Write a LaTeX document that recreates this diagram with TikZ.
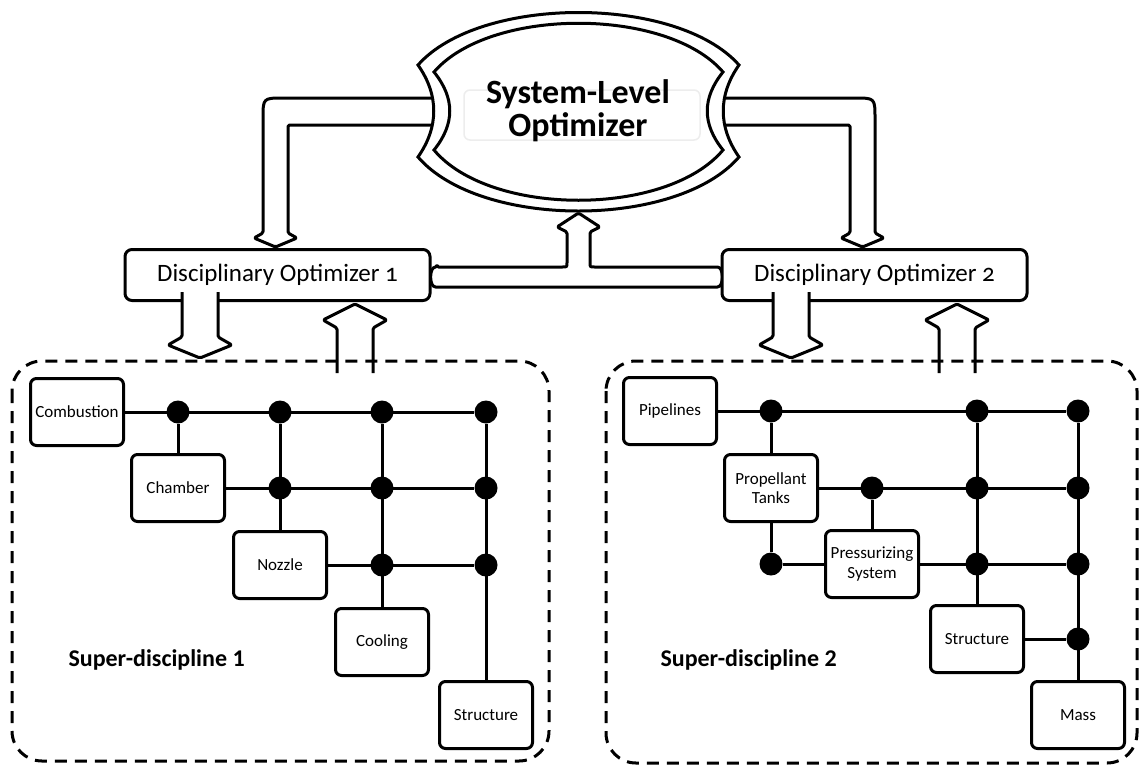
\documentclass[tikz,border=0pt]{standalone}
\usepackage{fontspec}
\setmainfont{Carlito}
\tikzset{
  sd-block/.style={draw=black, fill=white, rounded corners=6pt, line width=3pt,
    minimum width=93pt, minimum height=67pt, inner sep=1pt, align=center,
    font=\fontsize{17}{19.5}\selectfont},
  sd-optimizer/.style={draw=black, fill=white, rounded corners=7pt, line width=3pt,
    minimum width=305pt, minimum height=51pt, inner sep=2pt,
    font=\fontsize{25}{27}\selectfont\addfontfeatures{Numbers=OldStyle}},
  sd-dot/.style={circle, fill=black, inner sep=0pt, minimum size=23pt},
  sd-link/.style={line width=3pt},
  sd-frame/.style={draw=black, line width=3pt, dash pattern=on 12pt off 8pt, rounded corners=30pt},
  sd-blockarrow/.style={draw=black, fill=white, line width=3pt, rounded corners=1.5pt, line join=round}
}

\begin{document}
\begin{tikzpicture}[x=1pt, y=-1pt]
  \useasboundingbox (0,0) rectangle (1140,766);

  % Optimizer to disciplinary optimizers
  \draw[sd-blockarrow] (445,98) -- (285,98) .. controls (263,98) .. (263,120) -- (263,233) -- (254,238) -- (275.5,247) -- (297,238) -- (288,233) -- (288,125) -- (445,125);
  \draw[sd-blockarrow] (712,98) -- (853,98) .. controls (875,98) .. (875,120) -- (875,233) -- (884,238) -- (862.5,247) -- (841,238) -- (850,233) -- (850,125) -- (712,125);

  % System-level optimizer
  \draw[line width=3pt, fill=white] (418,65) .. controls (480,-5) and (677,-5) .. (739,65)
    .. controls (718,95) and (718,127) .. (739,157)
    .. controls (677,229) and (480,229) .. (418,157)
    .. controls (439,127) and (439,95) .. (418,65) -- cycle;
  \draw[line width=3pt] (434,72) .. controls (490,7) and (667,7) .. (723,72)
    .. controls (702,98) and (702,124) .. (723,150)
    .. controls (667,217) and (490,217) .. (434,150)
    .. controls (455,124) and (455,98) .. (434,72) -- cycle;
  \draw[black!7, line width=1.5pt, rounded corners=6pt] (464,90) rectangle (700,140);
  \node[align=center, font=\fontsize{34}{33}\selectfont\bfseries] (slo) at (578,111) {System-Level\\Optimizer};

  % Feedback to system level
  \draw[sd-blockarrow] (437,267) -- (561,267) .. controls (567,267) .. (567,261) -- (567,232) -- (557,227) -- (578.5,213) -- (600,227) -- (590,232) -- (590,261) .. controls (590,267) .. (596,267) -- (716,267) .. controls (724,267) and (724,287) .. (716,287) -- (437,287) .. controls (429,287) and (429,267) .. (437,267) -- cycle;

  % Disciplinary optimizers
  \node[sd-optimizer] (do1) at (277.5,275) {Disciplinary Optimizer 1};
  \node[sd-optimizer] (do2) at (874.5,275) {Disciplinary Optimizer 2};

  % Down and up arrows
  \draw[sd-blockarrow] (182,292) -- (182,337) -- (168,345) -- (200,358) -- (232,345) -- (218,337) -- (218,292);
  \draw[sd-blockarrow] (337,373) -- (337,328) -- (323,320) -- (355,304) -- (387,320) -- (373,328) -- (373,373);
  \draw[sd-blockarrow] (773,292) -- (773,337) -- (759,345) -- (791,358) -- (823,345) -- (809,337) -- (809,292);
  \draw[sd-blockarrow] (939,373) -- (939,328) -- (925,320) -- (957,304) -- (989,320) -- (975,328) -- (975,373);

  % Super-discipline frames
  \draw[sd-frame] (12,361) rectangle (549,761);
  \draw[sd-frame] (606,361) rectangle (1137,763);
  \node[anchor=west, font=\fontsize{24}{26}\selectfont\bfseries] (sd1) at (65,660) {Super-discipline 1};
  \node[anchor=west, font=\fontsize{24}{26}\selectfont\bfseries] (sd2) at (657,660) {Super-discipline 2};

  % Super-discipline 1
  \node[sd-block] (comb) at (77,412) {Combustion};
  \node[sd-block] (cham) at (178,488) {Chamber};
  \node[sd-block] (nozz) at (280,565) {Nozzle};
  \node[sd-block] (cool) at (382,642) {Cooling};
  \node[sd-block] (stra) at (486,715) {Structure};

  \node[sd-dot] (a11) at (178,412) {};
  \node[sd-dot] (a12) at (280,412) {};
  \node[sd-dot] (a13) at (382,412) {};
  \node[sd-dot] (a14) at (486,412) {};
  \node[sd-dot] (a22) at (280,488) {};
  \node[sd-dot] (a23) at (382,488) {};
  \node[sd-dot] (a24) at (486,488) {};
  \node[sd-dot] (a33) at (382,565) {};
  \node[sd-dot] (a34) at (486,565) {};

  \draw[sd-link] (comb) -- (a14);
  \draw[sd-link] (cham) -- (a24);
  \draw[sd-link] (nozz) -- (a34);
  \draw[sd-link] (a11) -- (cham);
  \draw[sd-link] (a12) -- (nozz);
  \draw[sd-link] (a13) -- (cool);
  \draw[sd-link] (a14) -- (stra);

  % Super-discipline 2
  \node[sd-block] (pipe) at (670,411) {Pipelines};
  \node[sd-block] (tank) at (771,488) {Propellant\\Tanks};
  \node[sd-block] (pres) at (872,564) {Pressurizing\\System};
  \node[sd-block] (strb) at (977,639) {Structure};
  \node[sd-block] (mass) at (1078,715) {Mass};

  \node[sd-dot] (b11) at (771,411) {};
  \node[sd-dot] (b13) at (977,411) {};
  \node[sd-dot] (b14) at (1078,411) {};
  \node[sd-dot] (b22) at (872,488) {};
  \node[sd-dot] (b23) at (977,488) {};
  \node[sd-dot] (b24) at (1078,488) {};
  \node[sd-dot] (b31) at (771,564) {};
  \node[sd-dot] (b33) at (977,564) {};
  \node[sd-dot] (b34) at (1078,564) {};
  \node[sd-dot] (b44) at (1078,639) {};

  \draw[sd-link] (pipe) -- (b14);
  \draw[sd-link] (tank) -- (b24);
  \draw[sd-link] (b31) -- (pres);
  \draw[sd-link] (pres) -- (b34);
  \draw[sd-link] (strb) -- (b44);
  \draw[sd-link] (b11) -- (tank);
  \draw[sd-link] (tank) -- (b31);
  \draw[sd-link] (b22) -- (pres);
  \draw[sd-link] (b13) -- (strb);
  \draw[sd-link] (b14) -- (mass);
\end{tikzpicture}
\end{document}
